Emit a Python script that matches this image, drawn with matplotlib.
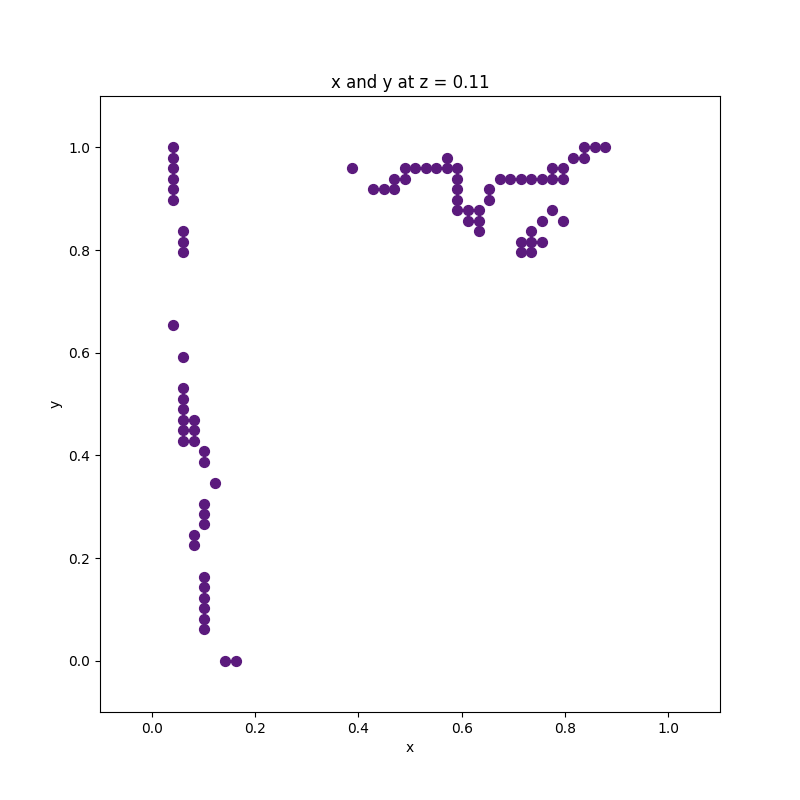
import numpy as np
import matplotlib
matplotlib.use("Agg")
import matplotlib.pyplot as plt

# grid step of the sampled field
step = 1 / 49

# grid indices of the points where the slice at z = 0.11 is set
x_idx = [2, 2, 2, 2, 2, 2,
         3, 3, 3,
         2,
         3, 3, 3, 3, 3, 3, 3,
         4, 4, 4,
         5, 5, 6,
         5, 5, 5,
         4, 4,
         5, 5, 5, 5, 5, 5,
         7, 8,
         19,
         21, 22, 23,
         23, 24,
         24, 25, 26, 27, 28, 29,
         28,
         29, 29, 29, 29,
         30, 30,
         31, 31, 31,
         32, 32,
         33, 34, 35, 36, 37, 38, 39,
         38, 39,
         40,
         41, 41,
         42, 43,
         38, 39, 37, 36,
         35, 36, 37,
         35, 36]
y_idx = [49, 48, 47, 46, 45, 44,
         41, 40, 39,
         32,
         29, 26, 25, 24, 23, 22, 21,
         23, 22, 21,
         20, 19, 17,
         15, 14, 13,
         12, 11,
         8, 7, 6, 5, 4, 3,
         0, 0,
         47,
         45, 45, 45,
         46, 46,
         47, 47, 47, 47, 47, 47,
         48,
         46, 45, 44, 43,
         43, 42,
         43, 42, 41,
         45, 44,
         46, 46, 46, 46, 46, 46, 46,
         47, 47,
         48,
         49, 48,
         49, 49,
         43, 42, 42, 41,
         40, 40, 40,
         39, 39]

x = np.array(x_idx) * step
y = np.array(y_idx) * step

fig, ax = plt.subplots(figsize=(8, 8), dpi=100)
ax.scatter(x, y, s=50, color='#5b1a7d')
ax.set_xlim(-0.1, 1.1)
ax.set_ylim(-0.1, 1.1)
ax.set_xlabel('x')
ax.set_ylabel('y')
ax.set_title('x and y at z = 0.11')
fig.savefig('out.png')
